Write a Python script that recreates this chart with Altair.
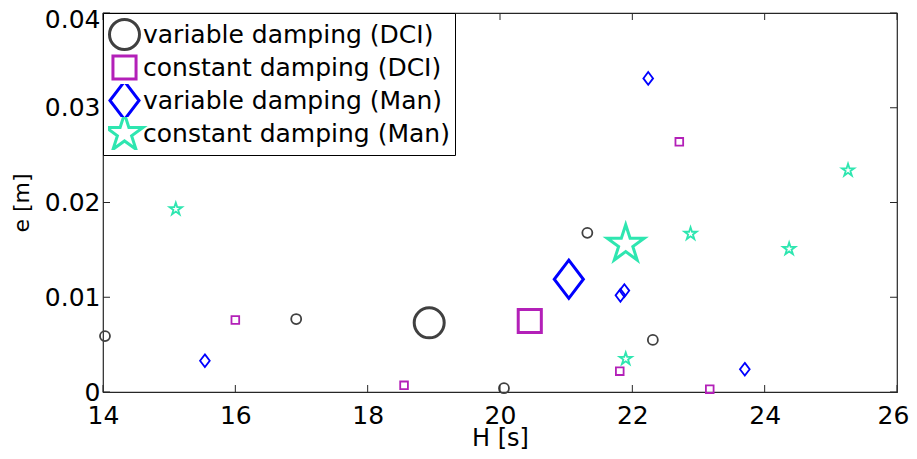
import altair as alt
import pandas as pd

# ---- data ----
series_names = ["variable damping (DCI)", "constant damping (DCI)",
                "variable damping (Man)", "constant damping (Man)"]

vd_dci_H = [14.03, 16.92, 20.06, 21.32, 22.31]
vd_dci_e = [0.0059, 0.0077, 0.0004, 0.0168, 0.0055]
vd_dci_mean = (18.93, 0.0073)

cd_dci_H = [16.00, 18.55, 21.81, 22.71, 23.17]
cd_dci_e = [0.0076, 0.0007, 0.0022, 0.0264, 0.0003]
cd_dci_mean = (20.45, 0.0075)

vd_man_H = [15.54, 21.82, 21.88, 22.24, 23.70]
vd_man_e = [0.0033, 0.0102, 0.0107, 0.0331, 0.0024]
vd_man_mean = (21.04, 0.0119)

cd_man_H = [15.10, 22.88, 21.90, 24.37, 25.26]
cd_man_e = [0.0193, 0.0167, 0.0035, 0.0151, 0.0234]
cd_man_mean = (21.90, 0.0156)

x_ticks = [14, 16, 18, 20, 22, 24, 26]
y_ticks = [0, 0.01, 0.02, 0.03, 0.04]

colors = ["#404040", "#B320B8", "#0000FF", "#2EE6B0"]
square = "M-0.77,-0.77L0.77,-0.77L0.77,0.77L-0.77,0.77Z"
diamond = "M0,-1.27L0.97,0L0,1.27L-0.97,0Z"
star = ("M0,-1.3L0.292,-0.402L1.236,-0.402L0.473,0.154L0.764,1.052L0,0.497"
        "L-0.764,1.052L-0.473,0.154L-1.236,-0.402L-0.292,-0.402Z")
shapes = ["circle", square, diamond, star]

# ---- build table ----
rows = []
groups = [(vd_dci_H, vd_dci_e, vd_dci_mean), (cd_dci_H, cd_dci_e, cd_dci_mean),
          (vd_man_H, vd_man_e, vd_man_mean), (cd_man_H, cd_man_e, cd_man_mean)]
for name, (hs, es, mean) in zip(series_names, groups):
    for h, e in zip(hs, es):
        rows.append({"H": h, "e": e, "series": name, "kind": "small"})
    rows.append({"H": mean[0], "e": mean[1], "series": name, "kind": "big"})
df = pd.DataFrame(rows)

W, H = 794, 379
FONT = "DejaVu Sans"
TICK_COLOR = "#262626"

x_scale = alt.Scale(domain=[14, 26], nice=False, zero=False)
y_scale = alt.Scale(domain=[0, 0.04], nice=False)

xt = pd.DataFrame({"v": x_ticks})
yt = pd.DataFrame({"v": y_ticks})

x_axis = alt.Axis(values=x_ticks, format="d", title="H [s]", domain=False, ticks=False,
                  grid=False, labelFlush=False, labelOverlap=False,
                  labelFont=FONT, labelFontSize=25, labelPadding=11,
                  labelColor="black",
                  labelOffset={"condition": {"test": "datum.value >= 26", "value": -4},
                               "value": 0},
                  titleFont=FONT, titleFontSize=24,
                  titleFontWeight="normal", titleColor="black", titleY=34,
                  titleBaseline="top")
y_axis = alt.Axis(values=y_ticks, format="~g", title="e [m]", domain=False, ticks=False,
                  grid=False, labelFlush=False, labelOverlap=False,
                  labelFont=FONT, labelFontSize=25, labelPadding=3,
                  labelColor="black",
                  labelOffset={"condition": {"test": "datum.value >= 0.04", "value": 6},
                               "value": 0},
                  titleFont=FONT, titleFontSize=22, titleFontWeight="normal",
                  titleColor="black", titleX=-75, titleY=H / 2, titleAngle=270,
                  titleBaseline="alphabetic", titleAlign="center")

points = alt.Chart(df).mark_point(filled=False, opacity=1).encode(
    x=alt.X("H:Q", scale=x_scale, axis=x_axis, title="H [s]"),
    y=alt.Y("e:Q", scale=y_scale, axis=y_axis, title="e [m]"),
    color=alt.Color("series:N", scale=alt.Scale(domain=series_names, range=colors),
                    legend=alt.Legend(title=None)),
    shape=alt.Shape("series:N", scale=alt.Scale(domain=series_names, range=shapes),
                    legend=alt.Legend(title=None)),
    size=alt.Size("kind:N", scale=alt.Scale(domain=["big", "small"], range=[900, 100]),
                  legend=None),
    strokeWidth=alt.StrokeWidth("kind:N",
                                scale=alt.Scale(domain=["big", "small"], range=[3, 1.8]),
                                legend=None),
)

bottom_ticks = alt.Chart(xt).mark_rule(color=TICK_COLOR, strokeWidth=1).encode(
    x=alt.X("v:Q", scale=x_scale, title="H [s]"), y=alt.value(H), y2=alt.value(H - 7))
top_ticks = alt.Chart(xt).mark_rule(color=TICK_COLOR, strokeWidth=1).encode(
    x=alt.X("v:Q", scale=x_scale, title="H [s]"), y=alt.value(0), y2=alt.value(7))
left_ticks = alt.Chart(yt).mark_rule(color=TICK_COLOR, strokeWidth=1).encode(
    y=alt.Y("v:Q", scale=y_scale, title="e [m]"), x=alt.value(0), x2=alt.value(7))
right_ticks = alt.Chart(yt).mark_rule(color=TICK_COLOR, strokeWidth=1).encode(
    y=alt.Y("v:Q", scale=y_scale, title="e [m]"), x=alt.value(W - 7), x2=alt.value(W))

chart = alt.layer(points, bottom_ticks, top_ticks, left_ticks, right_ticks).properties(
    width=W, height=H,
    autosize=alt.AutoSizeParams(type="none"),
    padding={"left": 95, "top": 5, "right": 12, "bottom": 59},
).configure_view(
    stroke=TICK_COLOR, strokeWidth=1.2
).configure_legend(
    orient="top-left", offset=0, padding=5, rowPadding=0, clipHeight=33,
    strokeColor="black", fillColor="white", cornerRadius=0,
    symbolSize=900, symbolStrokeWidth=3, labelFont=FONT, labelFontSize=25,
    labelColor="black", labelOffset=2, labelLimit=0
)

chart.save("out.html", embed_options={"renderer": "svg", "actions": False})
